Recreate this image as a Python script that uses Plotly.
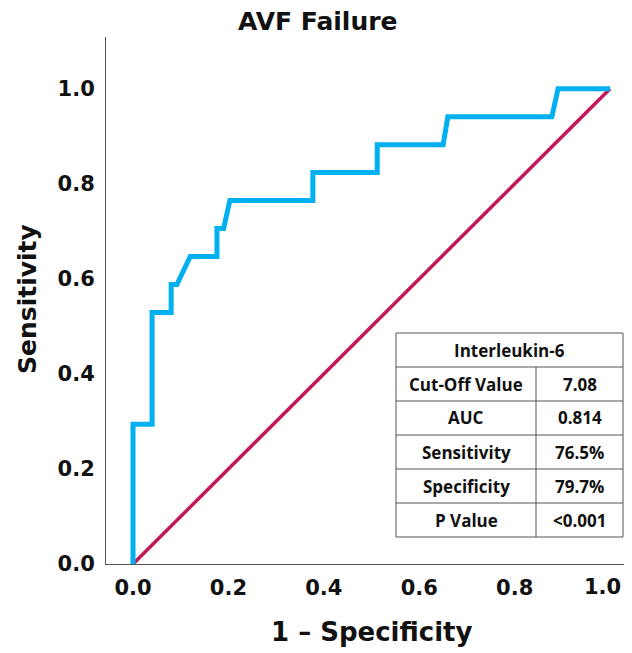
import plotly.graph_objects as go

# ROC curve (1 - specificity, sensitivity)
fpr = [0.0, 0.0, 0.04, 0.04, 0.08, 0.08, 0.092, 0.12, 0.176, 0.176, 0.19, 0.203,
       0.377, 0.377, 0.512, 0.512, 0.65, 0.66, 0.878, 0.891, 1.0]
tpr = [0.0, 0.294, 0.294, 0.529, 0.529, 0.588, 0.588, 0.647, 0.647, 0.706, 0.706, 0.765,
       0.765, 0.824, 0.824, 0.882, 0.882, 0.941, 0.941, 1.0, 1.0]
ref_x = [0.0, 1.0]
ref_y = [0.0, 1.0]

tick_vals = [0.0, 0.2, 0.4, 0.6, 0.8, 1.0]
tick_text = ["0.0", "0.2", "0.4", "0.6", "0.8", "1.0"]

table_title = "Interleukin-6"
table_labels = ["Cut-Off Value", "AUC", "Sensitivity", "Specificity", "P Value"]
table_values = ["7.08", "0.814", "76.5%", "79.7%", "<0.001"]

OFF = 8  # page body margin
W, H = 632 - OFF, 653 - OFF
L, R, T = 106 - OFF, 0, 37 - OFF
B = H - (564 - OFF)
PW, PH = W - L - R, H - T - B

def px(xp):
    return (xp - OFF - L) / PW

def py(yp):
    return (H - B - (yp - OFF)) / PH

fig = go.Figure()
fig.add_trace(go.Scatter(x=ref_x, y=ref_y, mode="lines",
                         line=dict(color="#C2185B", width=3.5), hoverinfo="skip"))
fig.add_trace(go.Scatter(x=fpr, y=tpr, mode="lines",
                         line=dict(color="#00B0F0", width=5), hoverinfo="skip"))

tick_font = dict(family="DejaVu Sans", size=21, color="#111", weight="bold")
x_ticktext = tick_text[:-1] + [""]
fig.update_xaxes(range=[-0.0566, 1.046], tickvals=tick_vals, ticktext=x_ticktext,
                 showgrid=False, zeroline=False, showline=True, linecolor="#555",
                 linewidth=1, ticks="", ticklabelstandoff=5, tickfont=tick_font)
fig.update_yaxes(range=[0.0, 1.109], tickvals=tick_vals, ticktext=tick_text,
                 showgrid=False, zeroline=False, showline=True, linecolor="#555",
                 linewidth=1, ticks="", ticklabelstandoff=6, tickfont=tick_font)

title_font = dict(family="DejaVu Sans", size=25, color="#111", weight="bold")
xtitle_font = dict(family="DejaVu Sans", size=26, color="#111", weight="bold")
annotations = [
    dict(text="AVF Failure", xref="paper", yref="paper", x=px(318), y=py(22),
         showarrow=False, font=title_font, xanchor="center", yanchor="middle"),
    dict(text="1 – Specificity", xref="x", yref="paper", x=0.5, y=py(632),
         showarrow=False, font=xtitle_font, xanchor="center", yanchor="middle"),
    dict(text="Sensitivity", xref="paper", yref="paper", x=px(27), y=py(299),
         showarrow=False, font=title_font, textangle=-90, xanchor="center", yanchor="middle"),
    # last x tick label, kept inside the visible page edge
    dict(text=tick_text[-1], xref="paper", yref="paper", x=px(623), y=py(573),
         showarrow=False, font=tick_font, xanchor="right", yanchor="top"),
]

# table
tl, tm, tr = 396, 536, 623
row_edges = [333, 367, 401, 435, 469, 503, 537]
shapes = [dict(type="rect", xref="paper", yref="paper", x0=px(tl), x1=px(tr),
               y0=py(row_edges[-1]), y1=py(row_edges[0]),
               line=dict(color="#555", width=1), fillcolor="white", layer="above")]
for e in row_edges[1:-1]:
    shapes.append(dict(type="line", xref="paper", yref="paper", x0=px(tl), x1=px(tr),
                       y0=py(e), y1=py(e), line=dict(color="#555", width=1)))
shapes.append(dict(type="line", xref="paper", yref="paper", x0=px(tm), x1=px(tm),
                   y0=py(row_edges[-1]), y1=py(row_edges[1]), line=dict(color="#555", width=1)))

cell_font = dict(family="Open Sans", size=17, color="#111", weight="bold")
annotations.append(dict(text=table_title, xref="paper", yref="paper",
                        x=px((tl + tr) / 2), y=py((row_edges[0] + row_edges[1]) / 2),
                        showarrow=False, font=cell_font, xanchor="center", yanchor="middle"))
for i, (lab, val) in enumerate(zip(table_labels, table_values)):
    yc = py((row_edges[i + 1] + row_edges[i + 2]) / 2)
    annotations.append(dict(text=lab, xref="paper", yref="paper", x=px((tl + tm) / 2), y=yc,
                            showarrow=False, font=cell_font, xanchor="center", yanchor="middle"))
    annotations.append(dict(text=val, xref="paper", yref="paper", x=px((tm + tr) / 2), y=yc,
                            showarrow=False, font=cell_font, xanchor="center", yanchor="middle"))

fig.update_layout(width=W, height=H, margin=dict(l=L, r=R, t=T, b=B),
                  paper_bgcolor="white", plot_bgcolor="white", showlegend=False,
                  shapes=shapes, annotations=annotations)
fig.write_html("out.html")
